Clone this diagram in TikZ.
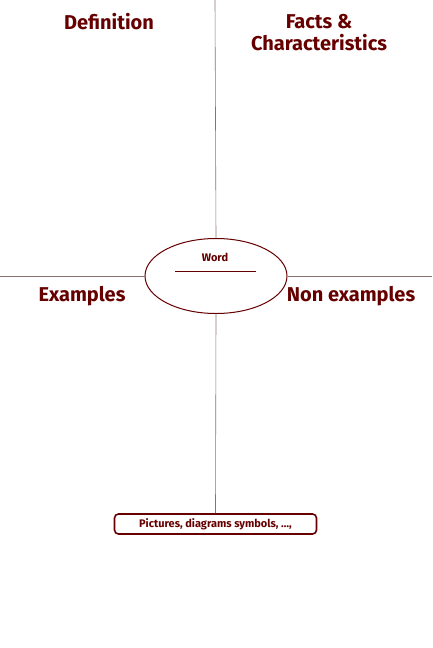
\documentclass[tikz,border=0pt]{standalone}
\usepackage{fontspec}
\setmainfont{Fira Sans}
\usepackage{color}
\usepackage{tikz}
\usetikzlibrary{shapes.geometric}
\definecolor{maroon}{HTML}{660000}
\definecolor{rule}{HTML}{8A7272}

\begin{document}
\begin{tikzpicture}[x=1pt,y=-1pt,
   title node/.style={text=maroon,font=\fontsize{20}{22}\selectfont\bfseries,align=center,inner sep=0pt}]

\tikzstyle {edge} = [-, draw=rule, line width=0.6pt];

\useasboundingbox (0,0) rectangle (432,648);

\node[draw=maroon, line width=1pt, ellipse, minimum width=142pt, minimum height=75pt, inner sep=0pt] (word) at (216,276){};
\node[text=maroon, font=\fontsize{11}{12}\selectfont\bfseries, inner sep=0pt] (wlabel) at (215,257){Word};
\coordinate (bl) at (175,271);
\coordinate (br) at (256,271);
\draw [maroon, line width=0.6pt] (bl) -- (br);

\node[title node] (def) at (109,22){Definition};
\node[title node] (facts) at (319,33){Facts \&\\Characteristics};
\node[title node] (ex) at (82,296){Examples};
\node[title node] (nonex) at (351,296){Non examples};

\node[draw=maroon, line width=1.6pt, rounded corners=4pt, minimum width=202pt, minimum height=20pt, inner sep=0pt,
      text=maroon, font=\fontsize{11}{12}\selectfont\bfseries] (pics) at (215.5,524){Pictures, diagrams symbols, \dots,};

\coordinate (top) at (215,0);
\coordinate (left) at (0,276);
\coordinate (right) at (432,276);

%\draw [-] (top) -- (pics);

\path (top) edge [edge]  (word.north);
\path (left) edge [edge]  (word.west);
\path (word.east) edge [edge]  (right);
\path (word.south) edge [edge]  (pics.north);

\end{tikzpicture}
\end{document}
